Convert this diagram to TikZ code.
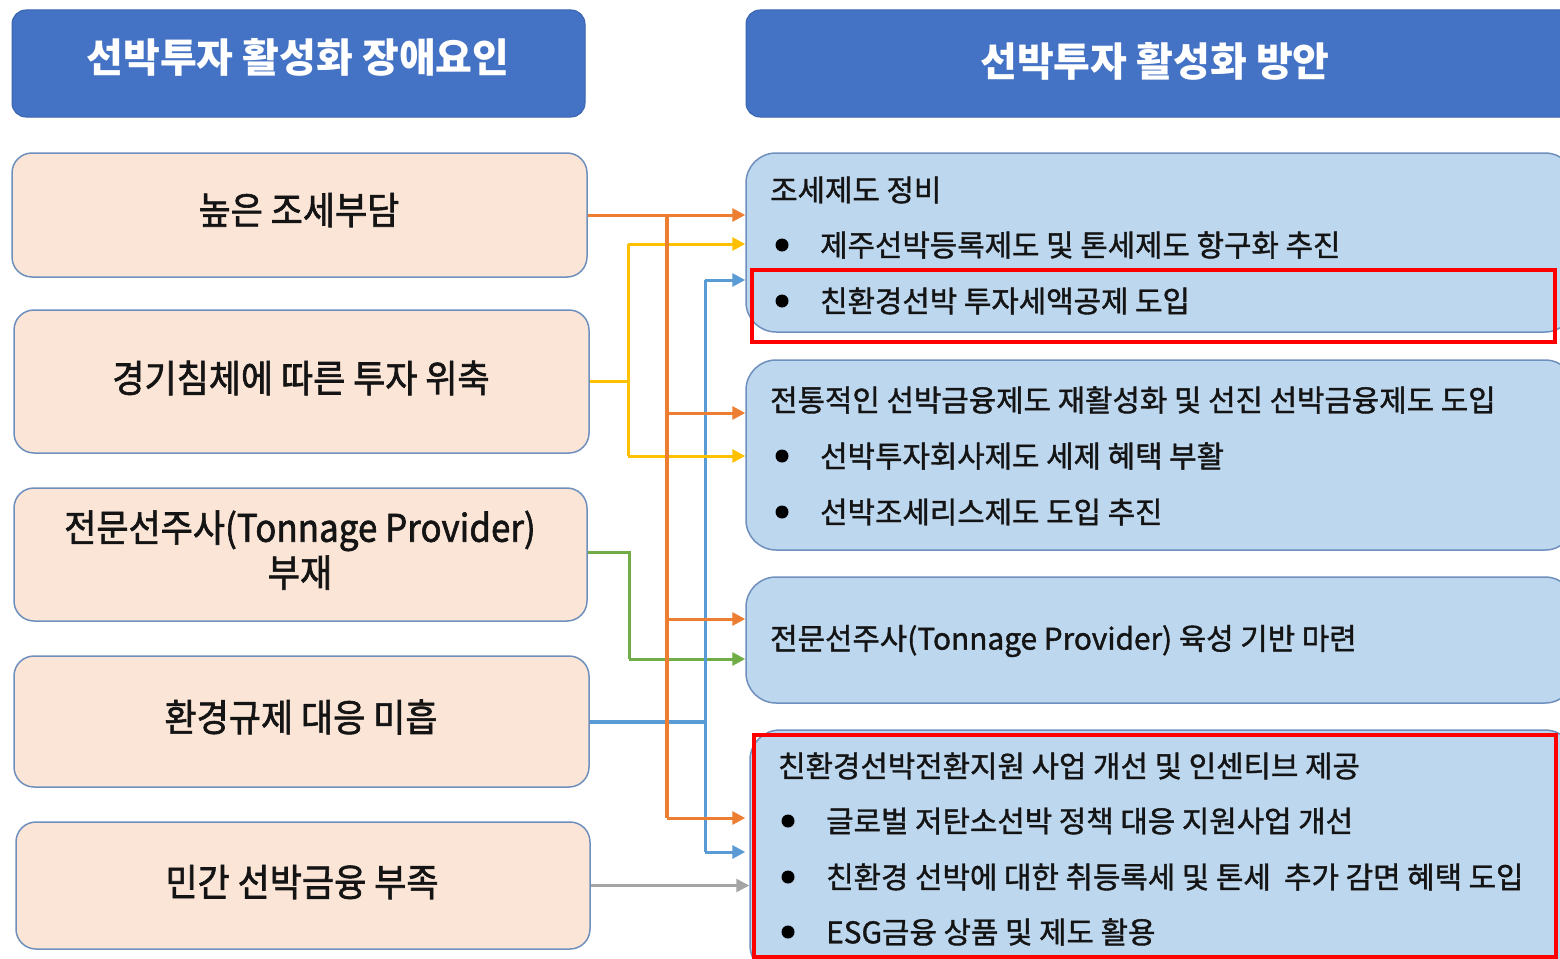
\documentclass[tikz,border=0pt]{standalone}
\usepackage{fontspec}
\setmainfont{Noto Sans CJK KR}
\newfontfamily\lfont[FakeBold=1.6, FakeStretch=0.92]{Noto Sans CJK KR}
\newfontfamily\rfont[FakeBold=1.3]{Noto Sans CJK KR}
\usetikzlibrary{arrows.meta}
\definecolor{hdr}{HTML}{4472C4}
\definecolor{hdrb}{HTML}{3A64B0}
\definecolor{peach}{HTML}{FBE5D6}
\definecolor{lblue}{HTML}{BDD7EE}
\definecolor{bord}{HTML}{6F8FBD}
\definecolor{corange}{HTML}{ED7D31}
\definecolor{cyellow}{HTML}{FFC000}
\definecolor{cblue}{HTML}{5B9BD5}
\definecolor{cgreen}{HTML}{70AD47}
\definecolor{cgray}{HTML}{A5A5A5}
\definecolor{txt}{HTML}{141414}
\tikzset{
  hdrbox/.style={draw=hdrb, fill=hdr, rounded corners=14pt, line width=1pt, inner sep=0pt},
  hdrtxt/.style={text=white, font=\fontsize{40}{44}\selectfont\bfseries, inner sep=0pt},
  lbox/.style={draw=bord, fill=peach, rounded corners=20pt, line width=1.5pt, inner sep=0pt},
  ltxt/.style={text=txt, font=\lfont\fontsize{38}{45}\selectfont, align=center, inner sep=0pt},
  rbox/.style={draw=bord, fill=lblue, rounded corners=30pt, line width=1.5pt, inner sep=0pt},
  rtxt/.style={anchor=west, text=txt, font=\rfont\fontsize{29.8}{32}\selectfont, inner sep=0pt},
  bul/.style={circle, fill=black, minimum size=13pt, inner sep=0pt},
  redbox/.style={draw=red, line width=4pt, inner sep=0pt},
  link/.style={line width=3pt},
  arr/.style={line width=3pt, -{Triangle[length=13pt,width=13pt]}},
}
\begin{document}
\begin{tikzpicture}[x=1pt,y=-1pt]
\clip (0,0) rectangle (1560,958);
\fill[white] (0,0) rectangle (1560,958);

% headers
\node[hdrbox, minimum width=573pt, minimum height=107pt] (HL) at (298.5,63.5) {};
\node[hdrtxt] (HLt) at (298,57) {선박투자 활성화 장애요인};
\node[hdrbox, minimum width=829pt, minimum height=107pt] (HR) at (1160.5,63.5) {};
\node[hdrtxt] (HRt) at (1155,61) {선박투자 활성화 방안};

% left boxes
\node[lbox, minimum width=575pt, minimum height=124pt] (L1) at (299.5,215) {};
\node[ltxt] (L1t) at (299,210) {높은 조세부담};
\node[lbox, minimum width=575pt, minimum height=143pt] (L2) at (301.5,381.5) {};
\node[ltxt] (L2t) at (301,378) {경기침체에 따른 투자 위축};
\node[lbox, minimum width=573pt, minimum height=133pt] (L3) at (300.5,554.5) {};
\node[ltxt] (L3t) at (300,550) {전문선주사(Tonnage Provider)\\부재};
\node[lbox, minimum width=575pt, minimum height=131pt] (L4) at (301.5,721.5) {};
\node[ltxt] (L4t) at (301,717) {환경규제 대응 미흡};
\node[lbox, minimum width=574pt, minimum height=127pt] (L5) at (303,885.5) {};
\node[ltxt] (L5t) at (302,882) {민간 선박금융 부족};

% right boxes
\node[rbox, minimum width=829pt, minimum height=179pt] (R1) at (1160.5,242.5) {};
\node[rbox, minimum width=829pt, minimum height=190pt] (R2) at (1160.5,455) {};
\node[rbox, minimum width=829pt, minimum height=126pt] (R3) at (1160.5,640) {};
\node[rbox, minimum width=825pt, minimum height=245pt] (R4) at (1162.5,852.5) {};

% right texts
\node[rtxt] (R1a) at (770,190) {조세제도 정비};
\node[bul] (R1b1) at (782,245) {};
\node[rtxt] (R1b) at (820,245) {제주선박등록제도 및 톤세제도 항구화 추진};
\node[bul] (R1c1) at (782,301) {};
\node[rtxt] (R1c) at (820,301) {친환경선박 투자세액공제 도입};

\node[rtxt] (R2a) at (770,400) {전통적인 선박금융제도 재활성화 및 선진 선박금융제도 도입};
\node[bul] (R2b1) at (782,456) {};
\node[rtxt] (R2b) at (820,456) {선박투자회사제도 세제 혜택 부활};
\node[bul] (R2c1) at (782,512) {};
\node[rtxt] (R2c) at (820,512) {선박조세리스제도 도입 추진};

\node[rtxt] (R3a) at (770,641) {전문선주사(Tonnage Provider) 육성 기반 마련};

\node[rtxt] (R4a) at (778,766) {친환경선박전환지원 사업 개선 및 인센티브 제공};
\node[bul] (R4b1) at (788,821) {};
\node[rtxt] (R4b) at (826,821) {글로벌 저탄소선박 정책 대응 지원사업 개선};
\node[bul] (R4c1) at (788,877) {};
\node[rtxt] (R4c) at (826,877) {친환경 선박에 대한 취등록세 및 톤세\ \ 추가 감면 혜택 도입};
\node[bul] (R4d1) at (788,932) {};
\node[rtxt] (R4d) at (826,932) {ESG금융 상품 및 제도 활용};

% red highlight frames
\node[redbox, minimum width=803pt, minimum height=72pt] (red1) at (1153.5,306) {};
\node[redbox, minimum width=802pt, minimum height=222pt] (red2) at (1155,846) {};

% junction coordinates
\coordinate (yj) at (628,381.5);
\coordinate (y1) at (628,244);
\coordinate (y2) at (628,456);
\coordinate (gj) at (629,552);
\coordinate (g2) at (629,659);
\coordinate (bj) at (705,721.5);
\coordinate (b1) at (705,280);
\coordinate (b2) at (705,852);
\coordinate (ot) at (667,215);
\coordinate (o2) at (667,413);
\coordinate (o3) at (667,619);
\coordinate (o4) at (667,818);

% gray
\draw[arr, cgray, line width=2.5pt] (L5.east) -- (L5.east -| R4.west);
% green
\draw[link, cgreen] (L3.east |- gj) -- (gj) -- (g2);
\draw[arr, cgreen] (g2) -- (g2 -| R3.west);
% blue
\draw[link, cblue, line width=4pt] (L4.east) -- (bj);
\draw[link, cblue] (b1) -- (b2);
\draw[arr, cblue] (b1) -- (b1 -| R1.west);
\draw[arr, cblue] (b2) -- (b2 -| R3.west);
% yellow
\draw[link, cyellow] (L2.east) -- (yj);
\draw[link, cyellow] (y1) -- (y2);
\draw[arr, cyellow] (y1) -- (y1 -| R1.west);
\draw[arr, cyellow] (y2) -- (y2 -| R2.west);
% orange
\draw[arr, corange] (L1.east) -- (L1.east -| R1.west);
\draw[link, corange, line width=3.5pt] (ot) -- (o4);
\draw[arr, corange] (o2) -- (o2 -| R2.west);
\draw[arr, corange] (o3) -- (o3 -| R3.west);
\draw[arr, corange] (o4) -- (o4 -| R3.west);
\end{tikzpicture}
\end{document}
